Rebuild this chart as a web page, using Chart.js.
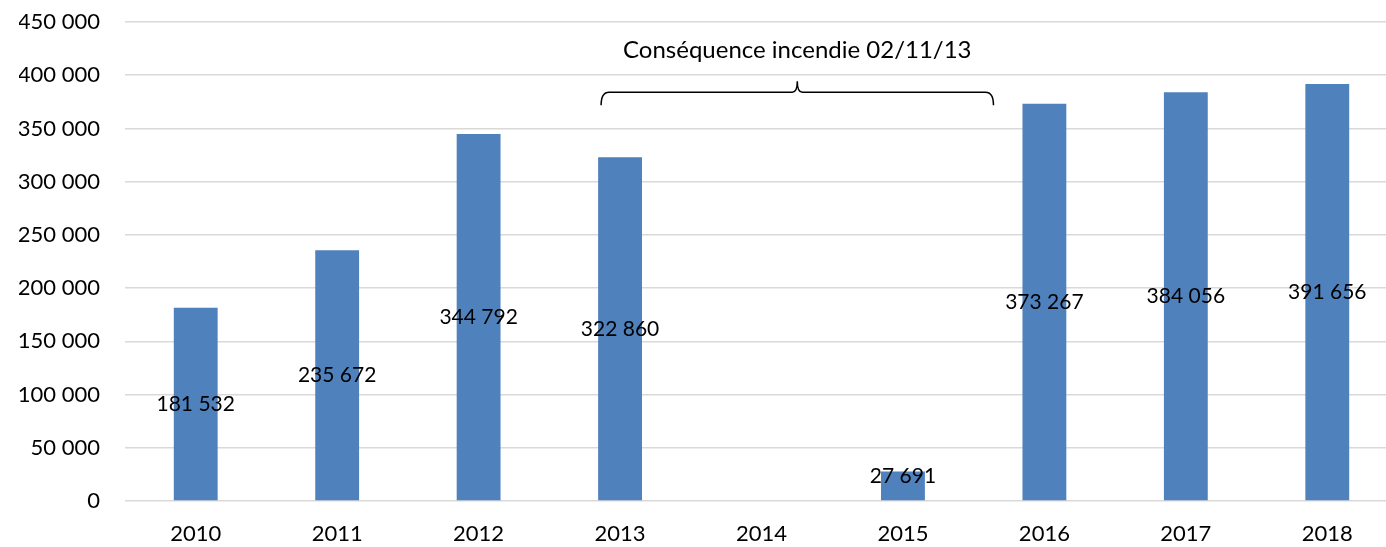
<!DOCTYPE html>
<html>
<head>
<meta charset="utf-8">
<script src="https://cdn.jsdelivr.net/npm/chart.js@4/dist/chart.umd.min.js"></script>
<style>
  body { margin: 0; background: #fff; overflow: hidden; }
  #wrap { width: 1386px; height: 547px; overflow: hidden; }
</style>
</head>
<body>
<div id="wrap"><canvas id="myChart" width="1398" height="547"></canvas></div>
<script>
// données
const annees = ["2010", "2011", "2012", "2013", "2014", "2015", "2016", "2017", "2018"];
const valeurs = [181532, 235672, 344792, 322860, null, 27691, 373267, 384056, 391656];
const noteTexte = "Conséquence incendie 02/11/13";
// accolade : de l'index 2,866 à 5,64, au niveau ~384 000
const accolade = [2.866, 5.64, 384000];

const police = "Lato, 'Open Sans', sans-serif";

function formatNombre(v) {
    return String(Math.round(v)).replace(/\B(?=(\d{3})+(?!\d))/g, " ");
}

// étiquettes au milieu des barres
const etiquettesPlugin = {
    id: "etiquettes",
    afterDatasetsDraw(chart) {
        const c = chart.ctx;
        const meta = chart.getDatasetMeta(0);
        c.save();
        c.font = "21px " + police;
        c.fillStyle = "#000";
        c.textAlign = "center";
        c.textBaseline = "middle";
        meta.data.forEach((bar, i) => {
            const v = valeurs[i];
            if (v == null) return;
            const mid = (bar.y + bar.base) / 2;
            c.fillText(formatNombre(v), bar.x, Math.min(mid, bar.base - 24));
        });
        c.restore();
    }
};

// accolade + texte
const accoladePlugin = {
    id: "accolade",
    afterDraw(chart) {
        const c = chart.ctx;
        const x = chart.scales.x, y = chart.scales.y;
        const x1 = x.getPixelForValue(accolade[0]);
        const x2 = x.getPixelForValue(accolade[1]);
        const yl = y.getPixelForValue(accolade[2]);
        const xm = (x1 + x2) / 2;
        c.save();
        c.strokeStyle = "#000";
        c.lineWidth = 1.5;
        c.beginPath();
        c.moveTo(x1, yl + 13);
        c.quadraticCurveTo(x1, yl, x1 + 8, yl);
        c.lineTo(xm - 5, yl);
        c.quadraticCurveTo(xm, yl, xm, yl - 11);
        c.quadraticCurveTo(xm, yl, xm + 5, yl);
        c.lineTo(x2 - 8, yl);
        c.quadraticCurveTo(x2, yl, x2, yl + 13);
        c.stroke();
        c.font = "24px " + police;
        c.fillStyle = "#000";
        c.textAlign = "center";
        c.textBaseline = "middle";
        c.fillText(noteTexte, xm, yl - 42);
        c.restore();
    }
};

const ctx = document.getElementById("myChart").getContext("2d");

const config = {
    type: "bar",
    data: {
        labels: annees,
        datasets: [{
            data: valeurs,
            backgroundColor: "#4f81bd",
            barPercentage: 0.31,
            categoryPercentage: 1.0
        }]
    },
    options: {
        responsive: false,
        animation: false,
        layout: { padding: { left: 19, right: 0, top: 22, bottom: 0 } },
        plugins: {
            legend: { display: false },
            tooltip: { enabled: false }
        },
        scales: {
            x: {
                grid: { display: false, drawTicks: false },
                border: { display: false },
                ticks: { color: "#000", font: { size: 22, family: police }, padding: 20 },
                afterFit: function (scale) { scale.height = 46; }
            },
            y: {
                min: 0,
                max: 450000,
                grid: { color: "#d9d9d9", lineWidth: 1.5, drawTicks: false },
                border: { display: false },
                ticks: {
                    stepSize: 50000,
                    color: "#000",
                    font: { size: 22, family: police },
                    padding: 25,
                    callback: function (value) { return formatNombre(value); }
                },
                afterFit: function (scale) {
                    scale.width = 106;
                    scale.paddingTop = 0;
                    scale.paddingBottom = 0;
                }
            }
        }
    },
    plugins: [etiquettesPlugin, accoladePlugin]
};

const myChart = new Chart(ctx, config);
</script>
</body>
</html>
